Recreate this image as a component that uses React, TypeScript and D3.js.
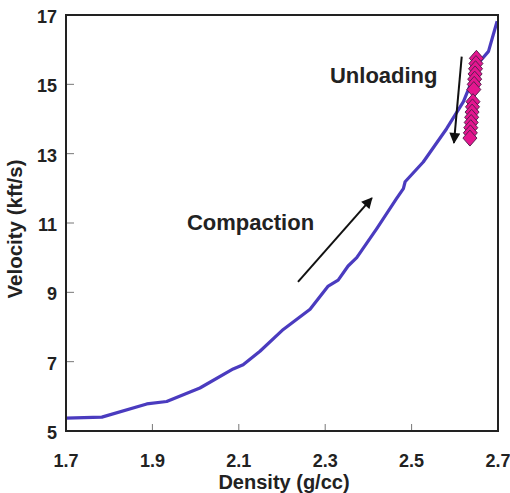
import React from "react";
import * as d3 from "d3";

const density = [1.7, 1.783, 1.887, 1.933, 2.01, 2.087, 2.11, 2.149, 2.203, 2.265, 2.307, 2.33, 2.353, 2.373, 2.419, 2.465, 2.481, 2.485, 2.527, 2.581, 2.62, 2.658, 2.678, 2.689, 2.698];
const velocity = [5.37, 5.4, 5.78, 5.85, 6.24, 6.79, 6.91, 7.3, 7.93, 8.51, 9.18, 9.35, 9.76, 10.0, 10.83, 11.7, 11.99, 12.19, 12.76, 13.72, 14.5, 15.66, 15.95, 16.43, 16.82];

const unloadDensity = [2.65, 2.649, 2.648, 2.647, 2.646, 2.645, 2.644, 2.642, 2.641, 2.64, 2.639, 2.638, 2.637, 2.636, 2.635];
const unloadVelocity = [15.75, 15.6, 15.45, 15.3, 15.15, 15.0, 14.85, 14.5, 14.35, 14.2, 14.05, 13.9, 13.75, 13.6, 13.45];

const xTicks = [1.7, 1.9, 2.1, 2.3, 2.5, 2.7];
const yTicks = [5, 7, 9, 11, 13, 15, 17];

const arrows = [
  { name: "Compaction", from: [2.237, 9.3], to: [2.408, 11.72], label: [1.98, 10.8] },
  { name: "Unloading", from: [2.616, 15.8], to: [2.598, 13.31], label: [2.311, 15.04] },
];

const W = 510, H = 493;
const L = 66, R = 498, T = 15, B = 431;

export default function App() {
  const x = d3.scaleLinear().domain([1.7, 2.7]).range([L, R]);
  const y = d3.scaleLinear().domain([5, 17]).range([B, T]);
  const line = d3.line<number>().x((_, i) => x(density[i])).y((_, i) => y(velocity[i]));
  const font = "'Liberation Sans', Arial, sans-serif";
  const diamond = (cx: number, cy: number) => `M${cx},${cy - 8}L${cx + 7},${cy}L${cx},${cy + 8}L${cx - 7},${cy}Z`;
  return (
    <div style={{ position: "absolute", left: 0, top: 0 }}>
      <svg width={W} height={H} style={{ display: "block" }}>
        <defs>
          <marker id="ah" viewBox="0 0 10 10" refX="9" refY="5" markerWidth="6" markerHeight="5.5" orient="auto">
            <path d="M0,0L10,5L0,10Z" fill="#111" />
          </marker>
        </defs>
        <rect x={0} y={0} width={W} height={H} fill="#fff" />
        {xTicks.slice(1, -1).map((t) => (
          <line key={"xt" + t} x1={x(t)} x2={x(t)} y1={B} y2={B - 7} stroke="#777" strokeWidth={1} />
        ))}
        {yTicks.slice(1, -1).map((t) => (
          <line key={"yt" + t} x1={L} x2={L + 8} y1={y(t)} y2={y(t)} stroke="#777" strokeWidth={1} />
        ))}
        <path d={line(density) || ""} fill="none" stroke="#4a3bbf" strokeWidth={3.2} strokeLinejoin="round" />
        {unloadDensity.map((d, i) => (
          <path key={"dm" + i} d={diamond(x(d), y(unloadVelocity[i]))} fill="#e4168f" stroke="#5a2050" strokeWidth={1} />
        ))}
        <rect x={L} y={T} width={R - L} height={B - T} fill="none" stroke="#222" strokeWidth={2} />
        {arrows.map((a) => (
          <g key={a.name}>
            <line x1={x(a.from[0])} y1={y(a.from[1])} x2={x(a.to[0])} y2={y(a.to[1])} stroke="#111" strokeWidth={2} markerEnd="url(#ah)" />
            <text x={x(a.label[0])} y={y(a.label[1])} fontFamily={font} fontWeight="bold" fontSize={22} fill="#222">{a.name}</text>
          </g>
        ))}
        {xTicks.map((t) => (
          <text key={"xl" + t} x={x(t)} y={467} textAnchor="middle" fontFamily={font} fontWeight="bold" fontSize={18} fill="#222">{t.toFixed(1)}</text>
        ))}
        {yTicks.map((t) => (
          <text key={"yl" + t} x={57} y={y(t) + 8} textAnchor="end" fontFamily={font} fontWeight="bold" fontSize={18} fill="#222">{t}</text>
        ))}
        <text x={284} y={489} textAnchor="middle" fontFamily={font} fontWeight="bold" fontSize={20} fill="#222">Density (g/cc)</text>
        <text transform={`translate(22,229) rotate(-90)`} textAnchor="middle" fontFamily={font} fontWeight="bold" fontSize={20.5} fill="#222">Velocity (kft/s)</text>
      </svg>
    </div>
  );
}
